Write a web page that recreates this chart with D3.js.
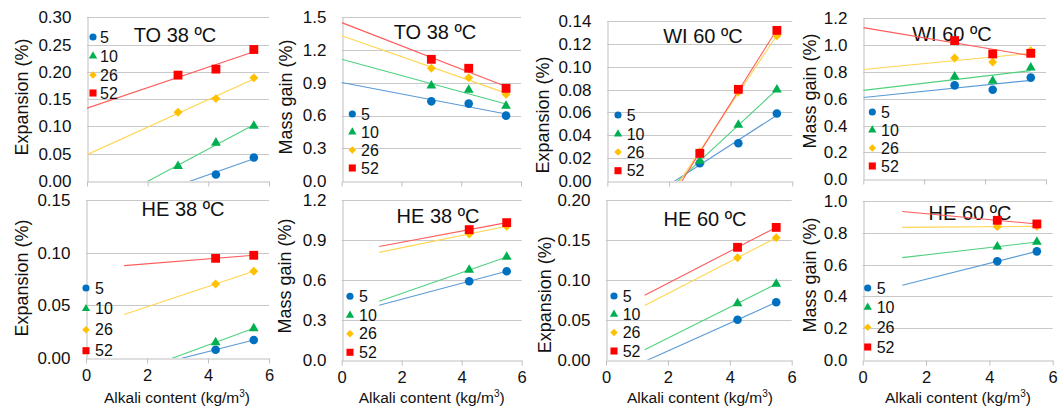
<!DOCTYPE html>
<html>
<head>
<meta charset="utf-8">
<script src="https://cdn.jsdelivr.net/npm/d3@7"></script>
<style>
  body { margin: 0; background: #fff; }
  svg { display: block; font-family: "Liberation Sans", Arial, sans-serif; }
</style>
</head>
<body>
<svg id="chart" width="1064" height="407"></svg>
<script>
// Data
var seriesNames = ["5", "10", "26", "52"];
var alkaliTop = [3.0, 4.25, 5.5];
var alkaliBottom = [4.25, 5.5];
var xTicks = [0, 2, 4, 6];

// one row per series: 5, 10, 26, 52
var to38Expansion = [
  [-0.006, 0.012, 0.043],
  [0.027, 0.070, 0.101],
  [0.126, 0.151, 0.189],
  [0.194, 0.205, 0.241]
];
var to38Mass = [
  [0.730, 0.709, 0.599],
  [0.874, 0.834, 0.687],
  [1.033, 0.947, 0.794],
  [1.115, 1.033, 0.849]
];
var wi60Expansion = [
  [0.0155, 0.033, 0.059],
  [0.0175, 0.049, 0.080],
  [0.0257, 0.0779, 0.127],
  [0.0242, 0.0802, 0.1318]
];
var wi60Mass = [
  [0.700, 0.668, 0.758],
  [0.765, 0.733, 0.832],
  [0.904, 0.874, 0.959],
  [1.034, 0.934, 0.939]
];
var he38Expansion = [
  [0.0079, 0.0171],
  [0.0149, 0.0282],
  [0.0704, 0.0825],
  [0.0948, 0.0977]
];
var he38Mass = [
  [0.5925, 0.6675],
  [0.6775, 0.775],
  [0.9475, 1.005],
  [0.980, 1.0325]
];
var he60Expansion = [
  [0.0502, 0.072],
  [0.0707, 0.095],
  [0.128, 0.153],
  [0.141, 0.166]
];
var he60Mass = [
  [0.621, 0.684],
  [0.714, 0.743],
  [0.840, 0.842],
  [0.880, 0.857]
];

// Styles
var markerColors = ["#0070C0", "#00B050", "#FFC000", "#FF0000"];
var lineColors = ["#5B9BD5", "#4FD17F", "#FFD54F", "#FF5B5B"];
var symbols = [d3.symbolCircle, d3.symbolTriangle, d3.symbolSquare, d3.symbolSquare];
var symbolSizes = [58, 42, 40, 78];
var legendSizes = [40, 30, 28, 50];

// Layout of the eight pasted charts
var panels = [
  { data: to38Expansion, xs: alkaliTop, title: "TO 38 ºC", ylabel: "Expansion (%)",
    left: 87, right: 269, top: 17.3, bottom: 181, yMax: 0.30, yStep: 0.05, fmt: ".2f",
    ylx: 22, yly: 97, tx: 175, ty: 41.5, lmx: 93, llx: 100, lys: [37, 56, 75, 93] },
  { data: to38Mass, xs: alkaliTop, title: "TO 38 ºC", ylabel: "Mass gain (%)",
    left: 341.7, right: 521, top: 17.3, bottom: 181, yMax: 1.5, yStep: 0.3, fmt: ".1f",
    ylx: 286, yly: 97, tx: 435, ty: 39, lmx: 352.3, llx: 361, lys: [114, 132, 150, 168] },
  { data: wi60Expansion, xs: alkaliTop, title: "WI 60 ºC", ylabel: "Expansion (%)",
    left: 607.3, right: 792.3, top: 21, bottom: 181, yMax: 0.14, yStep: 0.02, fmt: ".2f",
    ylx: 543, yly: 115, tx: 703, ty: 43, lmx: 618, llx: 626.7, lys: [115, 134, 152, 170.7] },
  { data: wi60Mass, xs: alkaliTop, title: "WI 60 ºC", ylabel: "Mass gain (%)",
    left: 863.3, right: 1046, top: 18.3, bottom: 179.3, yMax: 1.2, yStep: 0.2, fmt: ".1f",
    ylx: 810, yly: 91, tx: 952, ty: 40.7, lmx: 872.3, llx: 881, lys: [112, 130, 148, 166] },
  { data: he38Expansion, xs: alkaliBottom, title: "HE 38 ºC", ylabel: "Expansion (%)",
    left: 86, right: 269, top: 200.3, bottom: 358, yMax: 0.15, yStep: 0.05, fmt: ".2f",
    ylx: 22, yly: 278, tx: 183, ty: 216, lmx: 86, llx: 95, lys: [288, 308.7, 329.7, 350.7],
    xLabels: true, xtx: 177 },
  { data: he38Mass, xs: alkaliBottom, title: "HE 38 ºC", ylabel: "Mass gain (%)",
    left: 341.7, right: 521.7, top: 200.3, bottom: 360.3, yMax: 1.2, yStep: 0.3, fmt: ".1f",
    ylx: 285, yly: 276, tx: 438, ty: 223, lmx: 350, llx: 359, lys: [296.3, 315.3, 333.7, 352.3],
    xLabels: true, xtx: 431.7 },
  { data: he60Expansion, xs: alkaliBottom, title: "HE 60 ºC", ylabel: "Expansion (%)",
    left: 606, right: 791.7, top: 200.3, bottom: 359.7, yMax: 0.20, yStep: 0.05, fmt: ".2f",
    ylx: 545, yly: 294.7, tx: 705, ty: 225.7, lmx: 614, llx: 622.7, lys: [296, 314.3, 332.6, 351] ,
    xLabels: true, xtx: 700 },
  { data: he60Mass, xs: alkaliBottom, title: "HE 60 ºC", ylabel: "Mass gain (%)",
    left: 862.7, right: 1052.7, top: 201.3, bottom: 359.7, yMax: 1.0, yStep: 0.2, fmt: ".1f",
    ylx: 810, yly: 275, tx: 970, ty: 219.7, lmx: 867.7, llx: 876.7, lys: [288, 307.3, 327.3, 347],
    xLabels: true, xtx: 958 }
];

var svg = d3.select("#chart");

function fitLine(xs, ys) {
  var mx = d3.mean(xs), my = d3.mean(ys);
  var sxy = d3.sum(xs, function(d, i) { return (d - mx) * (ys[i] - my); });
  var sxx = d3.sum(xs, function(d) { return (d - mx) * (d - mx); });
  var slope = sxy / sxx;
  return { slope: slope, intercept: my - slope * mx };
}

function symbolPath(i, size) {
  return d3.symbol().type(symbols[i]).size(size)();
}

function symbolTransform(i, px, py) {
  // the 26 series uses a diamond: a square turned 45 degrees
  return "translate(" + px + "," + py + ")" + (i === 2 ? " rotate(45)" : "");
}

panels.forEach(function(p, k) {
  var g = svg.append("g");
  var x = d3.scaleLinear().domain([0, 6]).range([p.left, p.right]);
  var y = d3.scaleLinear().domain([0, p.yMax]).range([p.bottom, p.top]);
  var yTicks = d3.range(0, p.yMax + p.yStep / 2, p.yStep);

  // gridlines
  g.selectAll("line.grid")
    .data(yTicks.slice(1))
    .enter()
    .append("line")
    .attr("class", "grid")
    .attr("x1", p.left)
    .attr("x2", p.right)
    .attr("y1", function(d) { return Math.round(y(d)) + 0.5; })
    .attr("y2", function(d) { return Math.round(y(d)) + 0.5; })
    .attr("stroke", "#C8C8C8")
    .attr("stroke-width", 1);

  // y axis
  var yAxis = g.append("g")
    .attr("transform", "translate(" + (Math.round(p.left) + 0.5) + ",0)")
    .call(d3.axisLeft(y).tickValues(yTicks).tickSize(0).tickPadding(16).tickFormat(d3.format(p.fmt)));
  yAxis.select(".domain").attr("stroke", "#BFBFBF");
  yAxis.selectAll("text").attr("font-size", 17).attr("fill", "#111");

  // x axis
  var xAxis = g.append("g")
    .attr("transform", "translate(0," + (Math.round(p.bottom) + 0.5) + ")")
    .call(d3.axisBottom(x).tickValues(xTicks).tickSize(5).tickSizeOuter(0).tickPadding(6)
      .tickFormat(p.xLabels ? d3.format("d") : function() { return ""; }));
  xAxis.select(".domain").attr("stroke", "#BFBFBF");
  xAxis.selectAll(".tick line").attr("stroke", "#BFBFBF");
  xAxis.selectAll("text").attr("font-size", 16.5).attr("fill", "#111");

  if (p.xLabels) {
    var xt = g.append("text")
      .attr("x", p.xtx)
      .attr("y", 403)
      .attr("text-anchor", "middle")
      .attr("font-size", 15.5)
      .attr("fill", "#111");
    xt.append("tspan").text("Alkali content (kg/m");
    xt.append("tspan").attr("dy", -6).attr("font-size", 10).text("3");
    xt.append("tspan").attr("dy", 6).text(")");
  }

  // y axis title
  g.append("text")
    .attr("transform", "translate(" + p.ylx + "," + p.yly + ") rotate(-90)")
    .attr("text-anchor", "middle")
    .attr("dy", "0.35em")
    .attr("font-size", 18)
    .attr("fill", "#111")
    .text(p.ylabel);

  // chart title
  g.append("text")
    .attr("x", p.tx)
    .attr("y", p.ty)
    .attr("text-anchor", "middle")
    .attr("font-size", 20)
    .attr("fill", "#111")
    .text(p.title);

  // trendlines, extended 3 units backwards, clipped to the plot area
  var clipId = "clip" + k;
  g.append("clipPath")
    .attr("id", clipId)
    .append("rect")
    .attr("x", p.left)
    .attr("y", p.top)
    .attr("width", p.right - p.left)
    .attr("height", p.bottom - p.top);

  var lines = g.append("g").attr("clip-path", "url(#" + clipId + ")");
  p.data.forEach(function(vals, i) {
    var fit = fitLine(p.xs, vals);
    var xa = p.xs[0] - 3, xb = p.xs[p.xs.length - 1];
    lines.append("line")
      .attr("x1", x(xa))
      .attr("y1", y(fit.intercept + fit.slope * xa))
      .attr("x2", x(xb))
      .attr("y2", y(fit.intercept + fit.slope * xb))
      .attr("stroke", lineColors[i])
      .attr("stroke-width", 1.1);
  });

  // markers (values below the axis are not shown)
  p.data.forEach(function(vals, i) {
    g.selectAll("path.s" + i)
      .data(vals.map(function(v, j) { return { x: p.xs[j], v: v }; }).filter(function(d) { return d.v >= 0; }))
      .enter()
      .append("path")
      .attr("class", "s" + i)
      .attr("d", symbolPath(i, symbolSizes[i]))
      .attr("transform", function(d) { return symbolTransform(i, x(d.x), y(d.v)); })
      .attr("fill", markerColors[i]);
  });

  // legend
  seriesNames.forEach(function(name, i) {
    g.append("path")
      .attr("d", symbolPath(i, legendSizes[i]))
      .attr("transform", symbolTransform(i, p.lmx, p.lys[i]))
      .attr("fill", markerColors[i]);
    g.append("text")
      .attr("x", p.llx)
      .attr("y", p.lys[i])
      .attr("dy", "0.36em")
      .attr("font-size", 16)
      .attr("fill", "#111")
      .text(name);
  });
});
</script>
</body>
</html>
